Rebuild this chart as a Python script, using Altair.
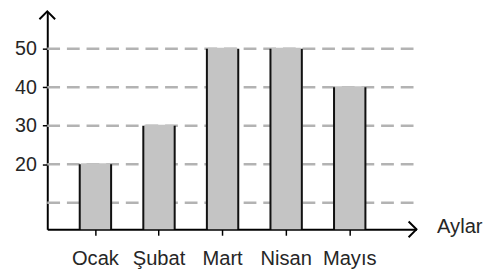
import altair as alt
import pandas as pd

months = ["Ocak", "Şubat", "Mart", "Nisan", "Mayıs"]
values = [20, 30, 50, 50, 40]
grid_values = [10, 20, 30, 40, 50]
y_labels = [20, 30, 40, 50]
x_title = "Aylar"

Y_MIN, Y_MAX = 3.1, 59.7
W, H = 376, 222
FONT = "Liberation Sans"
TXT = "#262626"

df = pd.DataFrame({"ay": months, "deger": values})
grid_df = pd.DataFrame({"g": grid_values})
one = pd.DataFrame({"k": [0]})

xscale = alt.Scale(domain=months, paddingInner=0.475, paddingOuter=0.641, align=0.386)
yscale = alt.Scale(domain=[Y_MIN, Y_MAX], nice=False, zero=False)
yaxis = alt.Axis(title=None, values=y_labels, tickSize=5, labelPadding=6, labelFontSize=20)

grid = alt.Chart(grid_df).mark_rule(color="#b3b3b3", strokeWidth=2.5, strokeDash=[13, 7]).encode(
    y=alt.Y("g:Q", scale=yscale, axis=yaxis),
    x=alt.value(0),
    x2=alt.value(W + 1),
)

base = alt.Chart(df).encode(
    x=alt.X("ay:N", sort=months, scale=xscale,
            axis=alt.Axis(title=None, labelAngle=0, tickSize=6, labelPadding=14,
                          labelFontSize=20.5)),
    y=alt.Y("deger:Q", scale=yscale, axis=yaxis),
    y2=alt.datum(Y_MIN),
)
outer = base.mark_bar(color="#111111")
inner = base.mark_bar(color="#c4c4c4", width=alt.RelativeBandSize(0.88), yOffset=-1)

arrow_up = alt.Chart(one).mark_point(
    shape="M-1,1L0,0L1,1", size=256, filled=False, stroke="black", strokeWidth=2, opacity=1
).encode(x=alt.value(0), y=alt.value(0))

arrow_right = alt.Chart(one).mark_point(
    shape="M-1,-1L0,0L-1,1", size=256, filled=False, stroke="black", strokeWidth=2, opacity=1
).encode(x=alt.value(W), y=alt.value(H))

title_text = alt.Chart(one).mark_text(
    align="left", baseline="middle", fontSize=20.5, font=FONT, color=TXT
).encode(x=alt.value(W + 21), y=alt.value(H - 2), text=alt.value(x_title))

chart = alt.layer(grid, outer, inner, arrow_up, arrow_right, title_text).properties(
    width=W, height=H,
    autosize=alt.AutoSizeParams(type="none"),
    padding={"left": 40, "top": 1, "right": 80, "bottom": 40},
).configure_view(stroke=None).configure_axis(
    grid=False, domainColor="black", domainWidth=2, tickColor="black", tickWidth=1.5,
    labelFont=FONT, labelColor=TXT,
)

chart.save("out.html", embed_options={"renderer": "svg", "actions": False})
